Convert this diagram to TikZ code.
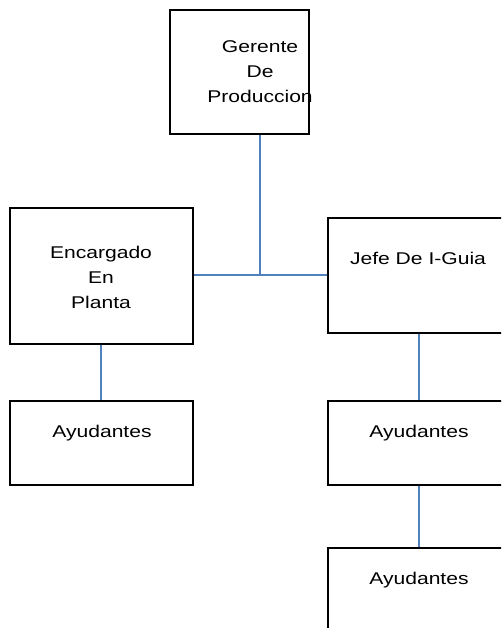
\documentclass[tikz,border=0pt]{standalone}
\usepackage{fontspec}
\setmainfont[FakeStretch=1.24]{Liberation Sans}
\begin{document}
\begin{tikzpicture}[x=1pt,y=-1pt,
  box/.style={draw=black,line width=1.6pt,fill=white,inner sep=0pt},
  lbl/.style={font=\fontsize{17}{25}\selectfont,align=center,inner sep=0pt,text=black},
  link/.style={draw={rgb,255:red,79;green,129;blue,189},line width=1.2pt}]
  \useasboundingbox (0,0) rectangle (501,628);
  \clip (0,0) rectangle (501,628);

  % boxes
  \node[box,minimum width=139pt,minimum height=124pt] (ger) at (239.5,72) {};
  \node[box,minimum width=183pt,minimum height=136pt] (enc) at (101.5,276) {};
  \node[box,minimum width=182pt,minimum height=115pt] (jef) at (419,275.5) {};
  \node[box,minimum width=183pt,minimum height=84pt] (ayl) at (101.5,443) {};
  \node[box,minimum width=182pt,minimum height=84pt] (ayr) at (419,443) {};
  \node[box,minimum width=182pt,minimum height=90pt] (ayb) at (419,593) {};

  % labels
  \node[lbl] (tger) at (260,72) {Gerente\\De\\Produccion};
  \node[lbl] (tenc) at (101,277) {Encargado\\En\\Planta};
  \node[lbl] (tjef) at (418,258) {Jefe De I-Guia};
  \node[lbl] (tayl) at (102,433) {Ayudantes};
  \node[lbl] (tayr) at (419,433) {Ayudantes};
  \node[lbl] (tayb) at (419,580) {Ayudantes};

  % connectors
  \coordinate (j) at (260,275);
  \coordinate (lx) at (101,0);
  \draw[link] (ger.south -| j) -- (j);
  \draw[link] (enc.east |- j) -- (jef.west |- j);
  \draw[link] (enc.south -| lx) -- (ayl.north -| lx);
  \draw[link] (jef.south) -- (ayr.north);
  \draw[link] (ayr.south) -- (ayb.north);
\end{tikzpicture}
\end{document}
